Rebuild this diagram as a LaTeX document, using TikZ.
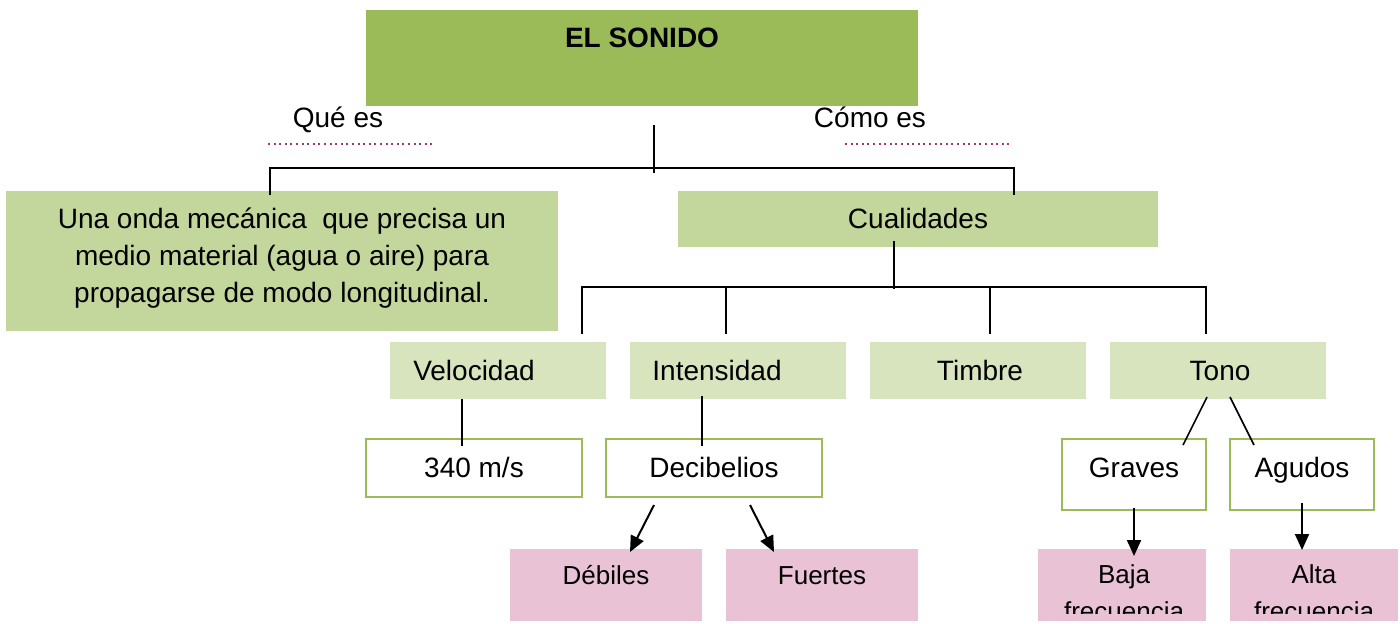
\documentclass[tikz,border=0pt]{standalone}
\usepackage{fontspec}
\setmainfont{Liberation Sans}
\usetikzlibrary{arrows.meta}
\definecolor{gTitle}{HTML}{9BBB59}
\definecolor{gMid}{HTML}{C3D69B}
\definecolor{gLight}{HTML}{D7E4BD}
\definecolor{pinkbox}{HTML}{E9C2D6}
\definecolor{dotc}{HTML}{A3366C}
\begin{document}
\begin{tikzpicture}[x=0.5pt,y=-0.5pt,
  txt/.style={font=\fontsize{14}{18.5}\selectfont, inner sep=0pt, align=center, anchor=base},
  ptxt/.style={txt, font=\fontsize{13}{18.5}\selectfont},
  boxbase/.style={anchor=north west, inner sep=0pt, outer sep=0pt},
  wbox/.style={boxbase, fill=white, draw=gTitle, line width=0.9pt},
  conn/.style={line width=0.8pt, black},
  arr/.style={line width=1pt, -{Triangle[width=7pt,length=8pt]}},
  dotline/.style={dotc, line width=1.1pt, dash pattern=on 1pt off 1.8pt}]
\useasboundingbox (0,0) rectangle (1400,623);

% boxes
\node[boxbase, fill=gTitle, minimum width=276pt, minimum height=48pt] (title) at (366,10) {};
\node[boxbase, fill=gMid, minimum width=276pt, minimum height=70pt] (def) at (6,191) {};
\node[boxbase, fill=gMid, minimum width=240pt, minimum height=28pt] (cual) at (678,191) {};
\node[boxbase, fill=gLight, minimum width=108pt, minimum height=28.5pt] (vel) at (390,342) {};
\node[boxbase, fill=gLight, minimum width=108pt, minimum height=28.5pt] (int) at (630,342) {};
\node[boxbase, fill=gLight, minimum width=108pt, minimum height=28.5pt] (tim) at (870,342) {};
\node[boxbase, fill=gLight, minimum width=108pt, minimum height=28.5pt] (ton) at (1110,342) {};
\node[wbox, minimum width=108pt, minimum height=29pt] (vals) at (366,439) {};
\node[wbox, minimum width=108pt, minimum height=29pt] (deci) at (606,439) {};
\node[wbox, minimum width=72pt, minimum height=35.5pt] (grav) at (1062,439) {};
\node[wbox, minimum width=72pt, minimum height=35.5pt] (agud) at (1230,439) {};
\node[boxbase, fill=pinkbox, minimum width=96pt, minimum height=36pt] (deb) at (510,549) {};
\node[boxbase, fill=pinkbox, minimum width=96pt, minimum height=36pt] (fue) at (726,549) {};
\node[boxbase, fill=pinkbox, minimum width=84pt, minimum height=36pt] (baja) at (1038,549) {};
\node[boxbase, fill=pinkbox, minimum width=84pt, minimum height=36pt] (alta) at (1230,549) {};

% texts
\node[txt, font=\fontsize{14}{18.5}\selectfont\bfseries] (titleT) at (642,47) {EL SONIDO};
\node[txt] (queT) at (338,127) {Qué es};
\node[txt] (comoT) at (870,127) {Cómo es};
\node[txt, anchor=north] (defT) at (282,207) {Una onda mecánica\ \ que precisa un\\medio material (agua o aire) para\\propagarse de modo longitudinal.};
\node[txt] (cualT) at (918,228) {Cualidades};
\node[txt] (velT) at (474,380) {Velocidad};
\node[txt] (intT) at (717,380) {Intensidad};
\node[txt] (timT) at (980,380) {Timbre};
\node[txt] (tonT) at (1220,380) {Tono};
\node[txt] (valsT) at (474,477) {340 m/s};
\node[txt] (deciT) at (714,477) {Decibelios};
\node[txt] (gravT) at (1134,477) {Graves};
\node[txt] (agudT) at (1302,477) {Agudos};
\node[ptxt] (debT) at (606,584) {Débiles};
\node[ptxt] (fueT) at (822,584) {Fuertes};
\coordinate (clipb) at (1038,613);
\coordinate (clipa) at (1230,613);
\begin{scope}
\clip (baja.north west) rectangle (clipb -| baja.east);
\node[ptxt, anchor=north] (bajaT) at (1124,564) {Baja\\frecuencia};
\end{scope}
\begin{scope}
\clip (alta.north west) rectangle (clipa -| alta.east);
\node[ptxt, anchor=north] (altaT) at (1314,564) {Alta\\frecuencia};
\end{scope}

% dotted underlines
\coordinate (q1) at (268,144); \coordinate (q2) at (435,144);
\coordinate (c1) at (845,144); \coordinate (c2) at (1011,144);
\draw[dotline] (q1) -- (q2);
\draw[dotline] (c1) -- (c2);

% first level connectors
\coordinate (a0) at (654,125); \coordinate (a1) at (654,173);
\coordinate (hl) at (270,168); \coordinate (hr) at (1014,168);
\coordinate (hlb) at (270,195); \coordinate (hrb) at (1014,195);
\draw[conn] (a0) -- (a1);
\draw[conn] (hlb) -- (hl) -- (hr) -- (hrb);

% second level connectors
\coordinate (b0) at (894,241); \coordinate (b1) at (894,289);
\coordinate (d1) at (582,287); \coordinate (d2) at (726,287);
\coordinate (d3) at (990,287); \coordinate (d4) at (1206,287);
\coordinate (e1) at (582,334); \coordinate (e2) at (726,334);
\coordinate (e3) at (990,334); \coordinate (e4) at (1206,334);
\draw[conn] (b0) -- (b1);
\draw[conn] (e1) -- (d1) -- (d4) -- (e4);
\draw[conn] (d2) -- (e2);
\draw[conn] (d3) -- (e3);

% third level
\coordinate (v1) at (462,399); \coordinate (v2) at (462,446);
\coordinate (i1) at (702,396); \coordinate (i2) at (702,446);
\draw[conn] (v1) -- (v2);
\draw[conn] (i1) -- (i2);
\coordinate (t1) at (1207,397); \coordinate (t2) at (1183,445);
\coordinate (t3) at (1230,397); \coordinate (t4) at (1254,445);
\draw[conn] (t1) -- (t2);
\draw[conn] (t3) -- (t4);

% arrows
\coordinate (p1) at (654,505); \coordinate (p2) at (630,552);
\coordinate (p3) at (750,505); \coordinate (p4) at (774,552);
\coordinate (p5) at (1134,508); \coordinate (p6) at (1134,556);
\coordinate (p7) at (1302,503); \coordinate (p8) at (1302,550);
\draw[arr] (p1) -- (p2);
\draw[arr] (p3) -- (p4);
\draw[arr] (p5) -- (p6);
\draw[arr] (p7) -- (p8);
\end{tikzpicture}
\end{document}
